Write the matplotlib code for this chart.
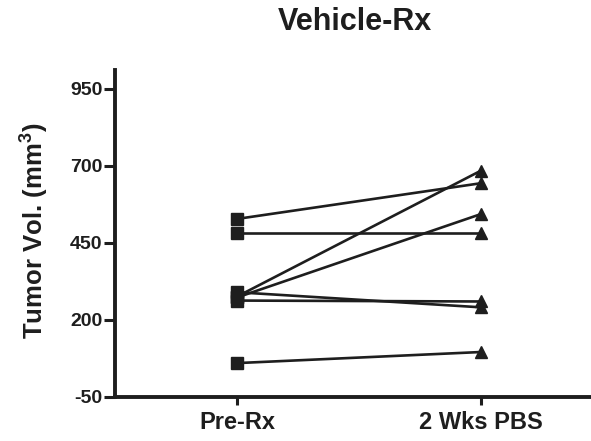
import matplotlib
matplotlib.use("Agg")
import matplotlib.pyplot as plt
import numpy as np

INK = "#1e1e1e"

# tumour volumes (mm^3), one line per animal
pre_rx = [527, 482, 275, 272, 289, 262, 59]
wk2_pbs = [643, 482, 684, 543, 240, 259, 95]
groups = ["Pre-Rx", "2 Wks PBS"]
yticks = [-50, 200, 450, 700, 950]

plt.rcParams.update({
    "font.family": "Liberation Sans",
    "font.weight": "bold",
    "mathtext.fontset": "custom",
    "mathtext.rm": "Liberation Sans:bold",
    "mathtext.bf": "Liberation Sans:bold",
})

fig = plt.figure(figsize=(5.91, 4.41), dpi=100)
ax = fig.add_axes([0.1946, 0.1005, 0.8054, 0.7405])

x = np.arange(len(groups))
for a, b in zip(pre_rx, wk2_pbs):
    ax.plot(x, [a, b], color=INK, lw=1.9, zorder=2)
ax.plot(np.zeros(len(pre_rx)), pre_rx, ls="none", marker="s", ms=8.5, color=INK, zorder=3)
ax.plot(np.ones(len(wk2_pbs)), wk2_pbs, ls="none", marker="^", ms=9, color=INK, zorder=3)

ax.set_xlim(-0.5, 1.45)
ax.set_ylim(-50, 1010)
ax.set_yticks(yticks)
ax.set_yticklabels([str(t) for t in yticks], fontsize=14, color=INK)
ax.set_xticks(x)
ax.set_xticklabels(groups, fontsize=17, color=INK)
ax.tick_params(width=2.2, length=6, color=INK, direction="out")
ax.tick_params(axis="y", length=8, pad=1)
ax.tick_params(axis="x", pad=4)
for s in ["top", "right"]:
    ax.spines[s].set_visible(False)
for s in ["left", "bottom"]:
    ax.spines[s].set_linewidth(2.8)
    ax.spines[s].set_color(INK)
ax.set_ylabel("Tumor Vol. (mm$^{3}$)", fontsize=18.5, fontweight="bold", color=INK)
ax.yaxis.label.set_va("center")
ax.yaxis.set_label_coords(-0.172, 0.507)
fig.text(0.601, 0.949, "Vehicle-Rx", ha="center", va="center", fontsize=22, fontweight="bold", color=INK)

fig.savefig("out.png", dpi=100, facecolor="white")
